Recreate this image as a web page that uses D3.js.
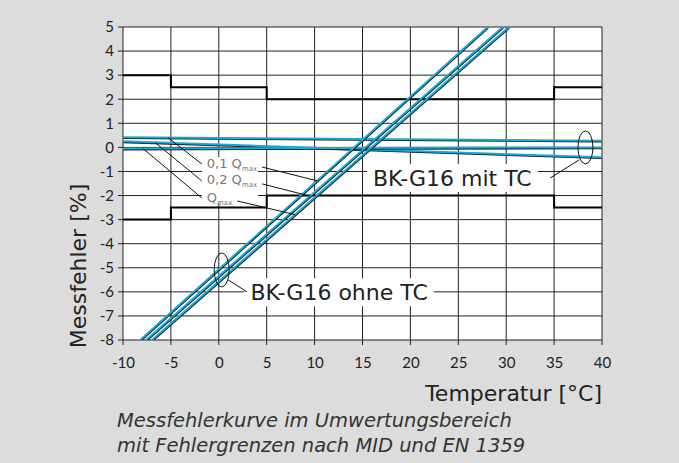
<!DOCTYPE html>
<html>
<head>
<meta charset="utf-8">
<script src="https://cdn.jsdelivr.net/npm/d3@7"></script>
<style>
	body { margin: 0; background: #dcdcdc; }
	svg { display: block; }
	text { font-family: "DejaVu Sans", sans-serif; }
</style>
</head>
<body>
<div id="chart"></div>
<script>
(function() {

	// tick values
	var xTicks = [-10, -5, 0, 5, 10, 15, 20, 25, 30, 35, 40];
	var yTicks = [-8, -7, -6, -5, -4, -3, -2, -1, 0, 1, 2, 3, 4, 5];

	// error limits (step functions over temperature)
	var limitEdges = [-10, -5, 5, 35, 40];
	var upperLimit = [3, 2.5, 2, 2.5];
	var lowerLimit = [-3, -2.5, -2, -2.5];

	// BK-G16 mit TC: error at -10 and 40 degC (0,1 Qmax, 0,2 Qmax, Qmax)
	var tcTemps = [-10, 40];
	var tcSeries = [
		[0.42, 0.28],
		[0.25, -0.41],
		[-0.05, 0.0]
	];

	// BK-G16 ohne TC: temperature where the curve is at -8 % and 5 %
	var noTcErrors = [-8, 5];
	var noTcSeries = [
		[-8.2, 28.07],
		[-7.6, 29.64],
		[-6.97, 30.27]
	];

	var qLabels = ["0,1 Q", "0,2 Q", "Q"];
	var qSubs = ["max", "max", "max"];
	// leader anchors: temp on the TC line, label y, temp on the diagonal line
	var qLeftX = [-5.29, -6.66, -7.91];
	var qTextY = [-0.65, -1.35, -2.06];
	var qRightX = [10.25, 9.52, 7.95];

	var width = 679, height = 463;
	var left = 123, right = 602, top = 27, bottom = 340;
	var blue = "#1aa9d6";

	var svg = d3.select("#chart").append("svg")
		.attr("width", width)
		.attr("height", height);

	svg.append("rect")
		.attr("width", width)
		.attr("height", height)
		.attr("fill", "#dcdcdc");

	var x = d3.scaleLinear().domain([-10, 40]).range([left, right]);
	var y = d3.scaleLinear().domain([-8, 5]).range([bottom, top]);

	svg.append("defs").append("clipPath")
		.attr("id", "plotClip")
		.append("rect")
			.attr("x", left)
			.attr("y", top)
			.attr("width", right - left)
			.attr("height", bottom - top);

	// plot background
	svg.append("rect")
		.attr("x", left)
		.attr("y", top)
		.attr("width", right - left)
		.attr("height", bottom - top)
		.attr("fill", "#fff");

	// grid
	var grid = svg.append("g").attr("class", "grid");
	grid.selectAll("line.gx")
		.data(xTicks).enter()
		.append("line")
			.attr("class", "gx")
			.attr("x1", function(d) { return x(d); })
			.attr("x2", function(d) { return x(d); })
			.attr("y1", top)
			.attr("y2", bottom + 5)
			.attr("stroke", "#222")
			.attr("stroke-width", 1);
	grid.selectAll("line.gy")
		.data(yTicks).enter()
		.append("line")
			.attr("class", "gy")
			.attr("x1", left - 5)
			.attr("x2", right)
			.attr("y1", function(d) { return y(d); })
			.attr("y2", function(d) { return y(d); })
			.attr("stroke", "#222")
			.attr("stroke-width", 1);

	// tick labels
	var plain = function(d) { return String(d); };
	svg.append("g")
		.attr("transform", "translate(0," + bottom + ")")
		.call(d3.axisBottom(x).tickValues(xTicks).tickSize(0).tickPadding(17).tickFormat(plain))
		.call(function(g) {
			g.select(".domain").remove();
			g.selectAll("text").attr("font-size", 15).attr("fill", "#222")
				.style("font-family", "Lato, sans-serif");
		});
	svg.append("g")
		.attr("transform", "translate(" + left + ",0)")
		.call(d3.axisLeft(y).tickValues(yTicks).tickSize(0).tickPadding(9).tickFormat(plain))
		.call(function(g) {
			g.select(".domain").remove();
			g.selectAll("text").attr("font-size", 15).attr("fill", "#222")
				.style("font-family", "Lato, sans-serif");
		});

	var plot = svg.append("g").attr("clip-path", "url(#plotClip)");

	// limit lines
	var stepLine = d3.line()
		.x(function(d) { return x(d[0]); })
		.y(function(d) { return y(d[1]); })
		.curve(d3.curveStepAfter);
	[upperLimit, lowerLimit].forEach(function(vals) {
		var pts = limitEdges.map(function(e, i) {
			return [e, vals[Math.min(i, vals.length - 1)]];
		});
		plot.append("path")
			.attr("d", stepLine(pts))
			.attr("fill", "none")
			.attr("stroke", "#000")
			.attr("stroke-width", 2);
	});

	var line = d3.line()
		.x(function(d) { return x(d[0]); })
		.y(function(d) { return y(d[1]); });

	// cyan curve with a thin dark edge underneath
	var drawCurve = function(pts) {
		plot.append("path")
			.attr("d", line(pts))
			.attr("fill", "none")
			.attr("stroke", "#111")
			.attr("stroke-width", 1.8)
			.attr("transform", "translate(0.4,0.9)");
		plot.append("path")
			.attr("d", line(pts))
			.attr("fill", "none")
			.attr("stroke", blue)
			.attr("stroke-width", 2);
	};

	tcSeries.forEach(function(s) {
		drawCurve(tcTemps.map(function(t, i) { return [t, s[i]]; }));
	});
	noTcSeries.forEach(function(s) {
		drawCurve(s.map(function(t, i) { return [t, noTcErrors[i]]; }));
	});

	// value of a series at temperature t
	var tcAt = function(i, t) {
		var s = tcSeries[i];
		return s[0] + (s[1] - s[0]) * (t - tcTemps[0]) / (tcTemps[1] - tcTemps[0]);
	};
	var noTcAt = function(i, t) {
		var s = noTcSeries[i];
		return noTcErrors[0] + (noTcErrors[1] - noTcErrors[0]) * (t - s[0]) / (s[1] - s[0]);
	};

	var ann = svg.append("g").attr("class", "annotations");

	// Q labels with white box
	ann.append("rect")
		.attr("x", x(-1.75))
		.attr("y", y(-0.4))
		.attr("width", x(4.09) - x(-1.75))
		.attr("height", y(-2.31) - y(-0.4))
		.attr("fill", "#fff");

	var qText = ann.selectAll("text.qlabel")
		.data(qLabels).enter()
		.append("text")
			.attr("class", "qlabel")
			.attr("x", x(-1.25))
			.attr("y", function(d, i) { return y(qTextY[i]); })
			.attr("dy", "0.35em")
			.attr("font-size", 13)
			.attr("fill", "#777");
	qText.append("tspan").text(function(d) { return d; });
	qText.append("tspan")
		.attr("font-size", 7)
		.attr("dy", 3)
		.text(function(d, i) { return qSubs[i]; });

	qLabels.forEach(function(d, i) {
		var node = qText.nodes()[i];
		var bb = node.getBBox();
		ann.append("line")
			.attr("x1", x(qLeftX[i]))
			.attr("y1", y(tcAt(i, qLeftX[i])))
			.attr("x2", bb.x - 5)
			.attr("y2", y(qTextY[i]) + 1)
			.attr("stroke", "#111")
			.attr("stroke-width", 1);
		ann.append("line")
			.attr("x1", bb.x + bb.width + 5)
			.attr("y1", y(qTextY[i]) + 4)
			.attr("x2", x(qRightX[i]))
			.attr("y2", y(noTcAt(i, qRightX[i])))
			.attr("stroke", "#111")
			.attr("stroke-width", 1);
	});

	// BK-G16 labels
	var bigLabel = function(txt, tx, ty, ex, ey, rx, ry, lx1, ly1, lx2, ly2) {
		var g = ann.append("g");
		var box = g.append("rect").attr("fill", "#fff");
		var t = g.append("text")
			.attr("x", x(tx))
			.attr("y", y(ty))
			.attr("dy", "0.35em")
			.attr("font-size", 22)
			.attr("fill", "#222")
			.text(txt);
		var bb = t.node().getBBox();
		box.attr("x", bb.x - 6)
			.attr("y", y(ty) - 14)
			.attr("width", bb.width + 12)
			.attr("height", 28);
		ann.append("ellipse")
			.attr("cx", x(ex))
			.attr("cy", y(ey))
			.attr("rx", rx)
			.attr("ry", ry)
			.attr("fill", "none")
			.attr("stroke", "#111")
			.attr("stroke-width", 1);
		ann.append("line")
			.attr("x1", x(lx1))
			.attr("y1", y(ly1))
			.attr("x2", x(lx2))
			.attr("y2", y(ly2))
			.attr("stroke", "#111")
			.attr("stroke-width", 1);
	};
	bigLabel("BK-G16 mit TC", 16.1, -1.27, 38.27, 0.0, 7.5, 16.5, 37.6, -0.52, 34.6, -1.27);
	bigLabel("BK-G16 ohne TC", 3.3, -6.02, 0.3, -5.09, 7.5, 17, 0.96, -5.5, 2.94, -6.0);

	// axis titles
	svg.append("text")
		.attr("x", right)
		.attr("y", 393)
		.attr("dy", "0.35em")
		.attr("text-anchor", "end")
		.attr("font-size", 22)
		.attr("fill", "#222")
		.text("Temperatur [°C]");
	svg.append("text")
		.attr("transform", "translate(78,266) rotate(-90)")
		.attr("dy", "0.35em")
		.attr("text-anchor", "middle")
		.attr("font-size", 22)
		.attr("fill", "#222")
		.text("Messfehler [%]");

	// caption
	var cap = svg.append("text")
		.attr("font-size", 19.5)
		.attr("font-style", "italic")
		.attr("fill", "#333");
	cap.append("tspan").attr("x", 117).attr("y", 427).text("Messfehlerkurve im Umwertungsbereich");
	cap.append("tspan").attr("x", 117).attr("y", 452).text("mit Fehlergrenzen nach MID und EN 1359");

})();
</script>
</body>
</html>
